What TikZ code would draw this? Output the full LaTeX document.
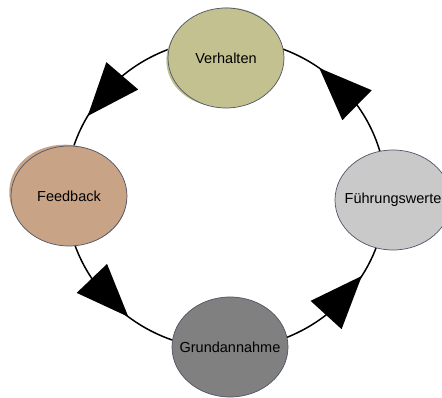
\documentclass[tikz,border=0pt]{standalone}
\usepackage{fontspec}
\setmainfont{Liberation Sans}
\usetikzlibrary{shapes.geometric,decorations.markings,backgrounds}
\definecolor{verhc}{HTML}{C3C18F}
\definecolor{feedc}{HTML}{C8A386}
\definecolor{fuhrc}{HTML}{C9C9C9}
\definecolor{grundc}{HTML}{808080}
\definecolor{rim}{HTML}{4D5566}
% centred label of zero width, so the ellipse keeps its own size
\newcommand{\stagetext}[1]{\makebox[0pt]{#1}}

\begin{document}
\begin{tikzpicture}[x=1pt,y=1pt,
  stage/.style={ellipse, draw=rim, line width=0.7pt, minimum width=116pt,
    minimum height=100pt, inner sep=0pt, font=\fontsize{14.5}{16}\selectfont},
  ring/.style={line width=1.5pt, black},
  tipmark/.style={postaction={decorate}, decoration={markings,
    mark=at position #1 with {\fill[black] (0pt,0pt) -- (-48.7pt,29.6pt)
      -- (-55.7pt,-11.8pt) -- cycle;}}}]
\useasboundingbox (0,-398) rectangle (442,0);

% the four stages of the cycle
\node[stage, fill=verhc]  (verh)  at (226,-58)  {\stagetext{Verhalten}};
\node[stage, fill=feedc]  (feed)  at (69,-196)  {\stagetext{Feedback}};
\node[stage, fill=fuhrc]  (fuhr)  at (393,-200) {\stagetext{Führungswerte}};
\node[stage, fill=grundc] (grund) at (230,-347) {\stagetext{Grundannahme}};

\coordinate (hub) at (226,-194);

\begin{scope}[on background layer]
  \fill[white] (0,-398) rectangle (442,0);
  % ring arcs, running counter-clockwise from stage to stage
  \draw[ring, tipmark=0.571] (fuhr.center) -- ([shift={(0:160pt and 155pt)}]hub)
    arc[start angle=0, end angle=90, x radius=160pt, y radius=155pt] -- (verh.center);
  \draw[ring, tipmark=0.683] (verh.center) -- ([shift={(90:160pt and 155pt)}]hub)
    arc[start angle=90, end angle=180, x radius=160pt, y radius=155pt] -- (feed.center);
  \draw[ring, tipmark=0.573] (feed.center) -- ([shift={(180:160pt and 155pt)}]hub)
    arc[start angle=180, end angle=270, x radius=160pt, y radius=155pt] -- (grund.center);
  \draw[ring, tipmark=0.633] (grund.center) -- ([shift={(270:160pt and 155pt)}]hub)
    arc[start angle=270, end angle=360, x radius=160pt, y radius=155pt] -- (fuhr.center);
  % loose hand-painted fills peeking out from under the outlines
  \fill[verhc] ([shift={(-2pt,1pt)}]verh.center) ellipse [x radius=58pt, y radius=49pt, rotate=12];
  \fill[feedc] ([shift={(-1pt,1pt)}]feed.center) ellipse [x radius=59pt, y radius=50pt, rotate=-10];
\end{scope}
\end{tikzpicture}
\end{document}
